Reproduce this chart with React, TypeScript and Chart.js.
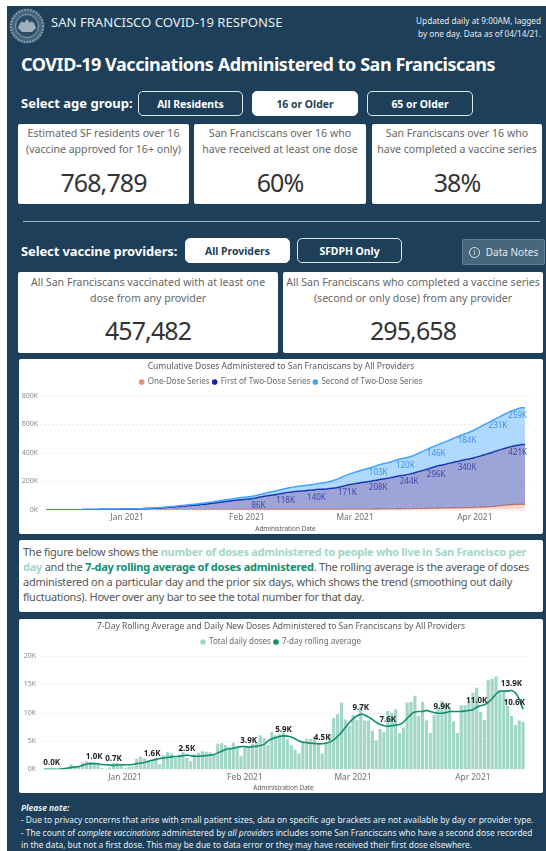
import React, { useEffect, useRef } from "react";
import { Chart, registerables } from "chart.js";

Chart.register(...registerables);

const FONT = '"Noto Sans", "Open Sans", sans-serif';

const days = [
  "Dec 11","Dec 12","Dec 13","Dec 14","Dec 15","Dec 16","Dec 17","Dec 18","Dec 19","Dec 20",
  "Dec 21","Dec 22","Dec 23","Dec 24","Dec 25","Dec 26","Dec 27","Dec 28","Dec 29","Dec 30",
  "Dec 31","Jan 1","Jan 2","Jan 3","Jan 4","Jan 5","Jan 6","Jan 7","Jan 8","Jan 9",
  "Jan 10","Jan 11","Jan 12","Jan 13","Jan 14","Jan 15","Jan 16","Jan 17","Jan 18","Jan 19",
  "Jan 20","Jan 21","Jan 22","Jan 23","Jan 24","Jan 25","Jan 26","Jan 27","Jan 28","Jan 29",
  "Jan 30","Jan 31","Feb 1","Feb 2","Feb 3","Feb 4","Feb 5","Feb 6","Feb 7","Feb 8",
  "Feb 9","Feb 10","Feb 11","Feb 12","Feb 13","Feb 14","Feb 15","Feb 16","Feb 17","Feb 18",
  "Feb 19","Feb 20","Feb 21","Feb 22","Feb 23","Feb 24","Feb 25","Feb 26","Feb 27","Feb 28",
  "Mar 1","Mar 2","Mar 3","Mar 4","Mar 5","Mar 6","Mar 7","Mar 8","Mar 9","Mar 10",
  "Mar 11","Mar 12","Mar 13","Mar 14","Mar 15","Mar 16","Mar 17","Mar 18","Mar 19","Mar 20",
  "Mar 21","Mar 22","Mar 23","Mar 24","Mar 25","Mar 26","Mar 27","Mar 28","Mar 29","Mar 30",
  "Mar 31","Apr 1","Apr 2","Apr 3","Apr 4","Apr 5","Apr 6","Apr 7","Apr 8","Apr 9",
  "Apr 10","Apr 11","Apr 12","Apr 13","Apr 14",
];
const monthStarts: Record<string, string> = { "Jan 1": "Jan 2021", "Feb 1": "Feb 2021", "Mar 1": "Mar 2021", "Apr 1": "Apr 2021" };

const oneDose = [
  0,0,0,0,0,0,0,0,0,0,
  0,.1,.1,.1,.2,.2,.2,.2,.3,.3,
  .3,.3,.4,.4,.4,.5,.5,.5,.6,.6,
  .6,.7,.7,.7,.8,.8,.8,.9,.9,.9,
  1,1,1,1.1,1.1,1.1,1.2,1.2,1.2,1.3,
  1.3,1.3,1.4,1.4,1.4,1.5,1.5,1.5,1.6,1.6,
  1.6,1.7,1.7,1.7,1.8,1.8,1.8,1.9,1.9,1.9,
  2,2,2,2.1,2.1,2.1,2.2,2.2,2.3,2.3,
  2.4,2.5,2.6,2.7,2.8,3,3.2,3.4,3.7,4,
  4.4,4.8,5.2,5.7,6.2,6.7,7.2,7.8,8.3,8.8,
  9.3,9.8,10.4,10.9,11.5,12,12.6,13.1,13.7,14.3,
  15,15.8,16.8,17.9,19,20.5,22.5,25,28,31,
  33.5,35.5,36.5,37,37,
];
const firstOfTwo = [
  0,0,0,0,0,0,0,.1,.3,.5,
  .8,1.1,1.5,1.9,2.3,2.6,2.8,3,3.2,3.4,
  3.8,4.1,4.4,4.8,5.6,6.6,7.8,8.8,9.9,11.2,
  13,14.6,16.8,19,21.2,23.6,26,28.2,30.1,32.3,
  35,38,41,44,47.5,51,54.5,58,61,64.5,
  68,71,73,75.5,80,86,91,96,99.5,103,
  108,113,118,122,125,127.5,129.5,132,135,137.5,
  140,142,143.5,145.5,149,153,158,164,171,176,
  181,186,190,194,197.5,202,208,212,216,220,
  226,231,235,238.5,244,250,258,265,272,279,
  288,296,302,307,313,319,325,329,336,340,
  345,351,358,365,372,379,386,392,398,403,
  408,413,417,421,422,
];
const secondOfTwo = [
  0,0,0,0,0,0,0,0,0,0,
  0,0,0,.1,.1,.1,.2,.2,.3,.3,
  .4,.5,.6,.7,.9,1,1.2,1.4,1.7,1.9,
  2.2,2.6,3,3.5,4,4.4,5,5.5,6,6.6,
  7.2,8,8.8,9.5,10.2,11,12,12.7,13.2,13.8,
  14.2,14.6,15,15.5,16,17,18.5,20.5,23,24.5,
  25.5,27,29,30.5,32,33.5,35,36,37,38.5,
  40,42,44,47,51,56,62,68,72,76,
  80,84,88,91,95,99,103,106,108,110,
  113,115,118,120,121,123,127,132,137,141,
  144,146,151,156,160,165,171,176,180,184,
  190,196,202,209,215,220,226,231,237,242,
  247,251,255,259,259,
];
const firstLabelDays = ["Feb 4","Feb 11","Feb 19","Feb 27","Mar 7","Mar 15","Mar 22","Mar 30","Apr 13"];
const secondLabelDays = ["Mar 7","Mar 14","Mar 22","Mar 30","Apr 7","Apr 13"];

const dailyDoses = [
  0,0,0,0,0,.1,.3,.9,.6,.4,
  1.2,1.4,1.3,1.2,.7,.2,.1,.3,1.1,1.1,
  1,.2,.5,.5,1.8,2.2,1.9,1.5,1.6,2,
  .9,2.5,3,2.8,2,2.6,3,2,1.4,2.6,
  2.9,3.2,3.1,3,2.7,4.5,4.6,4.3,3.9,4.7,
  3.8,2.3,3.8,3.9,4.5,4.8,6,5.5,4.3,6.6,
  6,6.2,6.5,5.3,4.3,3.5,2.8,4.8,5.4,5.4,
  5.8,4.5,2.8,4.8,6.2,9,9.7,11.8,8.8,7.7,
  9.6,8.7,11,8.6,8.6,6.8,5.1,7.1,6.6,10.3,
  9.9,10.6,6.4,7.4,11.8,11.9,13,9.4,11.9,8.6,
  6.4,9.6,10.9,12.1,11.4,10.9,8.5,6.4,11.3,11.3,
  12,13.5,14.4,10.1,8.7,15.7,16,16.4,13.9,13.8,
  11.2,9.4,7.8,8.6,8.4,
];
const rollingAverage = [
  0,0,0,0,0,.1,.2,.3,.4,.5,
  .7,.9,1,1,.95,.85,.8,.75,.7,.75,
  .8,.8,.8,.85,1,1.1,1.2,1.4,1.6,1.75,
  1.9,2,2.1,2.2,2.25,2.3,2.4,2.5,2.4,2.3,
  2.3,2.35,2.4,2.5,2.6,2.9,3.2,3.5,3.6,3.7,
  3.9,4,4,3.9,4,4.05,4.2,4.4,5,5.4,
  5.6,5.8,5.9,5.85,5.7,5.4,5,4.8,4.7,4.6,
  4.55,4.5,4.5,4.6,4.8,5.2,5.8,6.5,7.4,8.2,
  8.9,9.4,9.7,9.6,9.2,8.8,8.3,7.9,7.7,7.6,
  7.7,7.8,7.9,8.3,9,9.7,10.1,10.2,10.2,10.4,
  10.2,10,9.9,9.9,10,10.2,10.2,10.2,10.2,10.3,
  10.4,10.5,11,11.2,11.4,11.8,12.5,13.3,13.8,13.8,
  13.8,13.9,13.5,12.4,10.6,
];
const rollingLabelDays = ["Dec 13","Dec 24","Dec 29","Jan 8","Jan 17","Feb 2","Feb 11","Feb 21","Mar 3","Mar 10","Mar 24","Apr 2","Apr 11","Apr 14"];

const ORANGE = "#f0906a";
const NAVY = "#12239e";
const SKY = "#41a4ff";
const TEAL_LIGHT = "#a0d7c6";
const TEAL = "#118f6f";
const TICK = "#8a8a8a";
const LEGEND = "#6b6b6b";

function dottedGrid(id: string, x0: number, x1: number) {
  return {
    id,
    beforeDatasetsDraw(chart: any) {
      const { ctx, scales } = chart;
      ctx.save();
      ctx.strokeStyle = "#dcdcdc";
      ctx.lineWidth = 1;
      ctx.setLineDash([1, 3]);
      scales.y.ticks.forEach((t: any) => {
        const y = Math.round(scales.y.getPixelForValue(t.value)) + 0.5;
        ctx.beginPath();
        ctx.moveTo(x0, y);
        ctx.lineTo(x1, y);
        ctx.stroke();
      });
      ctx.restore();
    },
  };
}

function pointLabels(id: string, groups: { dataset: number; values: number[]; list: string[]; color: string; font: string; dy: number; fmt: (v: number) => string }[], rightLimit: number) {
  return {
    id,
    afterDatasetsDraw(chart: any) {
      const { ctx } = chart;
      ctx.save();
      ctx.textAlign = "center";
      ctx.textBaseline = "middle";
      groups.forEach((g) => {
        const meta = chart.getDatasetMeta(g.dataset);
        ctx.font = g.font;
        ctx.fillStyle = g.color;
        g.list.forEach((d) => {
          const i = days.indexOf(d);
          const el = meta.data[i];
          const text = g.fmt(g.values[i]);
          const half = ctx.measureText(text).width / 2;
          const x = Math.min(el.x, rightLimit - half);
          ctx.fillText(text, x, el.y + g.dy);
        });
      });
      ctx.restore();
    },
  };
}

function baseOptions(title: string, items: { text: string; color: string }[], yMax: number, yStep: number, yWidth: number, yPad: number, xHeight: number): any {
  return {
    responsive: false,
    animation: false,
    layout: { padding: 0 },
    plugins: {
      tooltip: { enabled: false },
      title: { display: true, text: title, color: "#5a5a5a", font: { family: FONT, size: 8.5, weight: "normal" }, padding: { top: 2, bottom: 3.8 } },
      legend: {
        display: true,
        position: "top",
        labels: {
          font: { family: FONT, size: 8 },
          color: LEGEND,
          padding: 3,
          boxHeight: 4,
          boxWidth: 4,
          usePointStyle: true,
          generateLabels: () =>
            items.map((it) => ({ text: it.text, fillStyle: it.color, strokeStyle: it.color, fontColor: LEGEND, pointStyle: "circle", lineWidth: 0, hidden: false })),
        },
      },
    },
    scales: {
      x: {
        grid: { display: false, drawTicks: false },
        border: { display: false },
        ticks: {
          autoSkip: false,
          maxRotation: 0,
          minRotation: 0,
          padding: 3,
          color: "#707070",
          font: { family: FONT, size: 8.4 },
          callback(this: any, v: any) {
            const name = this.getLabelForValue(v);
            return monthStarts[name] || "";
          },
        },
        title: { display: true, text: "Administration Date", color: "#555", font: { family: FONT, size: 6.4 }, padding: { top: 0, bottom: 1 } },
        afterFit(s: any) { s.height = xHeight; },
      },
      y: {
        min: 0,
        max: yMax,
        grid: { display: false, drawTicks: false },
        border: { display: false },
        ticks: {
          stepSize: yStep,
          padding: yPad,
          color: TICK,
          font: { family: FONT, size: 7 },
          callback: (v: any) => `${v}K`,
        },
        afterFit(s: any) { s.width = yWidth; },
      },
      gapRight: {
        type: "linear",
        position: "right",
        display: true,
        grid: { display: false, drawTicks: false },
        border: { display: false },
        ticks: { display: false },
        afterFit(s: any) { s.width = 18; },
      },
    },
  };
}

function CumulativeChart() {
  const ref = useRef<HTMLCanvasElement>(null);
  useEffect(() => {
    const fmtK = (v: number) => `${Math.round(v)}K`;
    // Stack tops, so the topmost series is also the one painted last.
    const topOne = oneDose;
    const topFirst = firstOfTwo.map((v, i) => v + oneDose[i]);
    const topSecond = secondOfTwo.map((v, i) => v + topFirst[i]);
    const common = { xAxisID: "x", yAxisID: "y", pointRadius: 0, tension: 0.2 };
    const chart = new Chart(ref.current!, {
      type: "line",
      data: {
        labels: days,
        datasets: [
          { ...common, label: "Second of Two-Dose Series", data: topSecond, borderColor: SKY, backgroundColor: "rgba(65,164,255,0.42)", borderWidth: 1.5, fill: 1 },
          { ...common, label: "First of Two-Dose Series", data: topFirst, borderColor: NAVY, backgroundColor: "rgba(18,35,158,0.41)", borderWidth: 1.5, fill: 2 },
          { ...common, label: "One-Dose Series", data: topOne, borderColor: ORANGE, backgroundColor: "rgba(240,144,106,0.35)", borderWidth: 1.3, fill: "origin" },
        ],
      } as any,
      options: baseOptions(
        "Cumulative Doses Administered to San Franciscans by All Providers",
        [{ text: "One-Dose Series", color: ORANGE }, { text: "First of Two-Dose Series", color: NAVY }, { text: "Second of Two-Dose Series", color: SKY }],
        800, 200, 27, 8, 24.3,
      ),
      plugins: [
        dottedGrid("grid1", 21, 511),
        pointLabels("labels1", [
          { dataset: 1, values: firstOfTwo, list: firstLabelDays, color: "#3d4bab", font: `8px ${FONT}`, dy: 8, fmt: fmtK },
          { dataset: 0, values: secondOfTwo, list: secondLabelDays, color: "#3f93e6", font: `8px ${FONT}`, dy: 8, fmt: fmtK },
        ], 508),
      ],
    });
    return () => chart.destroy();
  }, []);
  return <canvas ref={ref} width={524} height={175} style={{ position: "absolute", left: 19, top: 359, display: "block" }} />;
}

function DailyChart() {
  const ref = useRef<HTMLCanvasElement>(null);
  useEffect(() => {
    const chart = new Chart(ref.current!, {
      data: {
        labels: days,
        datasets: [
          { type: "line", xAxisID: "x", yAxisID: "y", label: "7-day rolling average", data: rollingAverage, borderColor: TEAL, borderWidth: 1.6, pointRadius: 0, tension: 0.25, fill: false, order: 1 },
          { type: "bar", xAxisID: "x", yAxisID: "y", label: "Total daily doses", data: dailyDoses, backgroundColor: TEAL_LIGHT, barPercentage: 0.82, categoryPercentage: 1, order: 2 },
        ],
      } as any,
      options: baseOptions(
        "7-Day Rolling Average and Daily New Doses Administered to San Franciscans by All Providers",
        [{ text: "Total daily doses", color: TEAL_LIGHT }, { text: "7-day rolling average", color: TEAL }],
        20, 5, 23, 6, 23.7,
      ),
      plugins: [
        dottedGrid("grid2", 23, 508),
        pointLabels("labels2", [
          { dataset: 0, values: rollingAverage, list: rollingLabelDays, color: "#252423", font: `bold 8px ${FONT}`, dy: -6.5, fmt: (v: number) => `${v.toFixed(1)}K` },
        ], 506),
      ],
    });
    return () => chart.destroy();
  }, []);
  return <canvas ref={ref} width={524} height={174} style={{ position: "absolute", left: 19, top: 619, display: "block" }} />;
}

const abs = (left: number, top: number, width: number, height: number): React.CSSProperties => ({ position: "absolute", left, top, width, height, boxSizing: "border-box" });

function Btn({ x, y, w, h, on, label }: { x: number; y: number; w: number; h: number; on?: boolean; label: string }) {
  return (
    <div style={{ ...abs(x, y, w, h), border: on ? "1px solid #fff" : "1px solid #dfe6ea", background: on ? "#fff" : "transparent", color: on ? "#1d3f59" : "#fff", borderRadius: 5, fontWeight: 700, fontSize: 10.4, display: "flex", alignItems: "center", justifyContent: "center" }}>
      {label}
    </div>
  );
}

function Card({ x, y, w, h, lines, value, size, labelTop, valueTop }: { x: number; y: number; w: number; h: number; lines: string[]; value: string; size: number; labelTop: number; valueTop: number }) {
  return (
    <div style={{ ...abs(x, y, w, h), background: "#fff", borderRadius: 2, textAlign: "center", color: "#666" }}>
      <div style={{ position: "absolute", left: 0, right: 0, top: labelTop, fontSize: 10.6, lineHeight: "15.5px", whiteSpace: "nowrap" }}>
        {lines.map((l) => <div key={l}>{l}</div>)}
      </div>
      <div style={{ position: "absolute", left: 0, right: 0, top: valueTop, fontSize: size, lineHeight: `${size + 4}px`, letterSpacing: -0.9, color: "#333" }}>{value}</div>
    </div>
  );
}

export default function App() {
  return (
    <div style={{ position: "absolute", left: 0, top: 0, width: 546, height: 851, overflow: "hidden", background: "#fff", fontFamily: FONT }}>
      <div style={{ ...abs(7, 6, 539, 845), background: "#1d3f59" }} />
      <svg style={{ position: "absolute", left: 9, top: 8 }} width="36" height="36" viewBox="0 0 36 36" aria-hidden="true">
        <circle cx="18" cy="18" r="17.5" fill="#47657b" />
        <circle cx="18" cy="18" r="16" fill="none" stroke="#8ea3b2" strokeWidth="2" strokeDasharray="1.5 1.5" />
        <circle cx="18" cy="18" r="11.5" fill="#2b4c65" stroke="#a3b4c0" strokeWidth="0.8" />
        <path d="M9 20 C11 13 14 12 15 15 L18 11 L21 15 C22 12 25 13 27 20 L23 24 L13 24 Z" fill="#9fb0bc" />
      </svg>
      <div style={{ position: "absolute", left: 51, top: 13, fontSize: 13.1, lineHeight: "18px", color: "#e6ecf0", whiteSpace: "nowrap" }}>SAN FRANCISCO COVID-19 RESPONSE</div>
      <div style={{ position: "absolute", right: 5, top: 15, fontSize: 8.2, lineHeight: "12.5px", color: "#e6ecf0", textAlign: "right", whiteSpace: "nowrap" }}>
        Updated daily at 9:00AM, lagged<br />by one day. Data as of 04/14/21.
      </div>
      <div style={{ position: "absolute", left: 21, top: 50, fontSize: 18, lineHeight: "28px", fontWeight: 700, letterSpacing: -0.45, color: "#fff", whiteSpace: "nowrap" }}>COVID-19 Vaccinations Administered to San Franciscans</div>

      <div style={{ position: "absolute", left: 21, top: 93, fontSize: 13, lineHeight: "20px", fontWeight: 700, color: "#fff", whiteSpace: "nowrap" }}>Select age group:</div>
      <Btn x={138} y={91} w={105} h={25} label="All Residents" />
      <Btn x={252} y={91} w={106} h={25} on label="16 or Older" />
      <Btn x={367} y={91} w={106} h={25} label="65 or Older" />

      <Card x={18} y={124} w={171} h={80} labelTop={2} valueTop={43.5} size={25} lines={["Estimated SF residents over 16", "(vaccine approved for 16+ only)"]} value="768,789" />
      <Card x={194} y={124} w={172} h={80} labelTop={2} valueTop={43.5} size={25} lines={["San Franciscans over 16 who", "have received at least one dose"]} value="60%" />
      <Card x={372} y={124} w={170} h={80} labelTop={2} valueTop={43.5} size={25} lines={["San Franciscans over 16 who", "have completed a vaccine series"]} value="38%" />

      <div style={{ ...abs(23, 221, 517, 1), background: "#9fb2bf" }} />

      <div style={{ position: "absolute", left: 21, top: 241, fontSize: 13, lineHeight: "20px", fontWeight: 700, letterSpacing: -0.12, color: "#fff", whiteSpace: "nowrap" }}>Select vaccine providers:</div>
      <Btn x={185} y={238} w={105} h={25} on label="All Providers" />
      <Btn x={297} y={238} w={105} h={25} label="SFDPH Only" />
      <div style={{ ...abs(462, 239, 83, 26), background: "#46687f", border: "1px solid #5f7f94", borderRadius: 2, color: "#e1e8ec", fontSize: 10, display: "flex", alignItems: "center", justifyContent: "center", gap: 6, whiteSpace: "nowrap" }}>
        <span style={{ width: 9, height: 9, border: "1px solid #e1e8ec", borderRadius: "50%", fontSize: 7, lineHeight: "9px", textAlign: "center", display: "inline-block" }}>i</span>
        Data Notes
      </div>

      <Card x={18} y={272} w={260} h={81} labelTop={3} valueTop={43.5} size={25} lines={["All San Franciscans vaccinated with at least one", "dose from any provider"]} value="457,482" />
      <Card x={283} y={272} w={260} h={81} labelTop={3} valueTop={43.5} size={25} lines={["All San Franciscans who completed a vaccine series", "(second or only dose) from any provider"]} value="295,658" />

      <div style={{ ...abs(19, 359, 524, 175), background: "#fff", borderRadius: 2 }} />
      <CumulativeChart />

      <div style={{ ...abs(19, 540, 524, 72), background: "#fff", borderRadius: 2, padding: "4px 0 0 4px", fontSize: 11, letterSpacing: -0.25, lineHeight: "15px", color: "#555", whiteSpace: "nowrap" }}>
        The figure below shows the <b style={{ color: TEAL_LIGHT }}>number of doses administered to people who live in San Francisco per</b><br />
        <b style={{ color: TEAL_LIGHT }}>day</b> and the <b style={{ color: TEAL }}>7-day rolling average of doses administered</b>. The rolling average is the average of doses<br />
        administered on a particular day and the prior six days, which shows the trend (smoothing out daily<br />
        fluctuations). Hover over any bar to see the total number for that day.
      </div>

      <div style={{ ...abs(19, 619, 524, 174), background: "#fff", borderRadius: 2 }} />
      <DailyChart />

      <div style={{ position: "absolute", left: 21, top: 802, fontSize: 8.4, lineHeight: "12.3px", color: "#e8eef2", whiteSpace: "nowrap" }}>
        <b><i>Please note:</i></b><br />
        - Due to privacy concerns that arise with small patient sizes, data on specific age brackets are not available by day or provider type.<br />
        - The count of <i>complete vaccinations</i> administered by <i>all providers</i> includes some San Franciscans who have a second dose recorded<br />
        in the data, but not a first dose. This may be due to data error or they may have received their first dose elsewhere.
      </div>
    </div>
  );
}
